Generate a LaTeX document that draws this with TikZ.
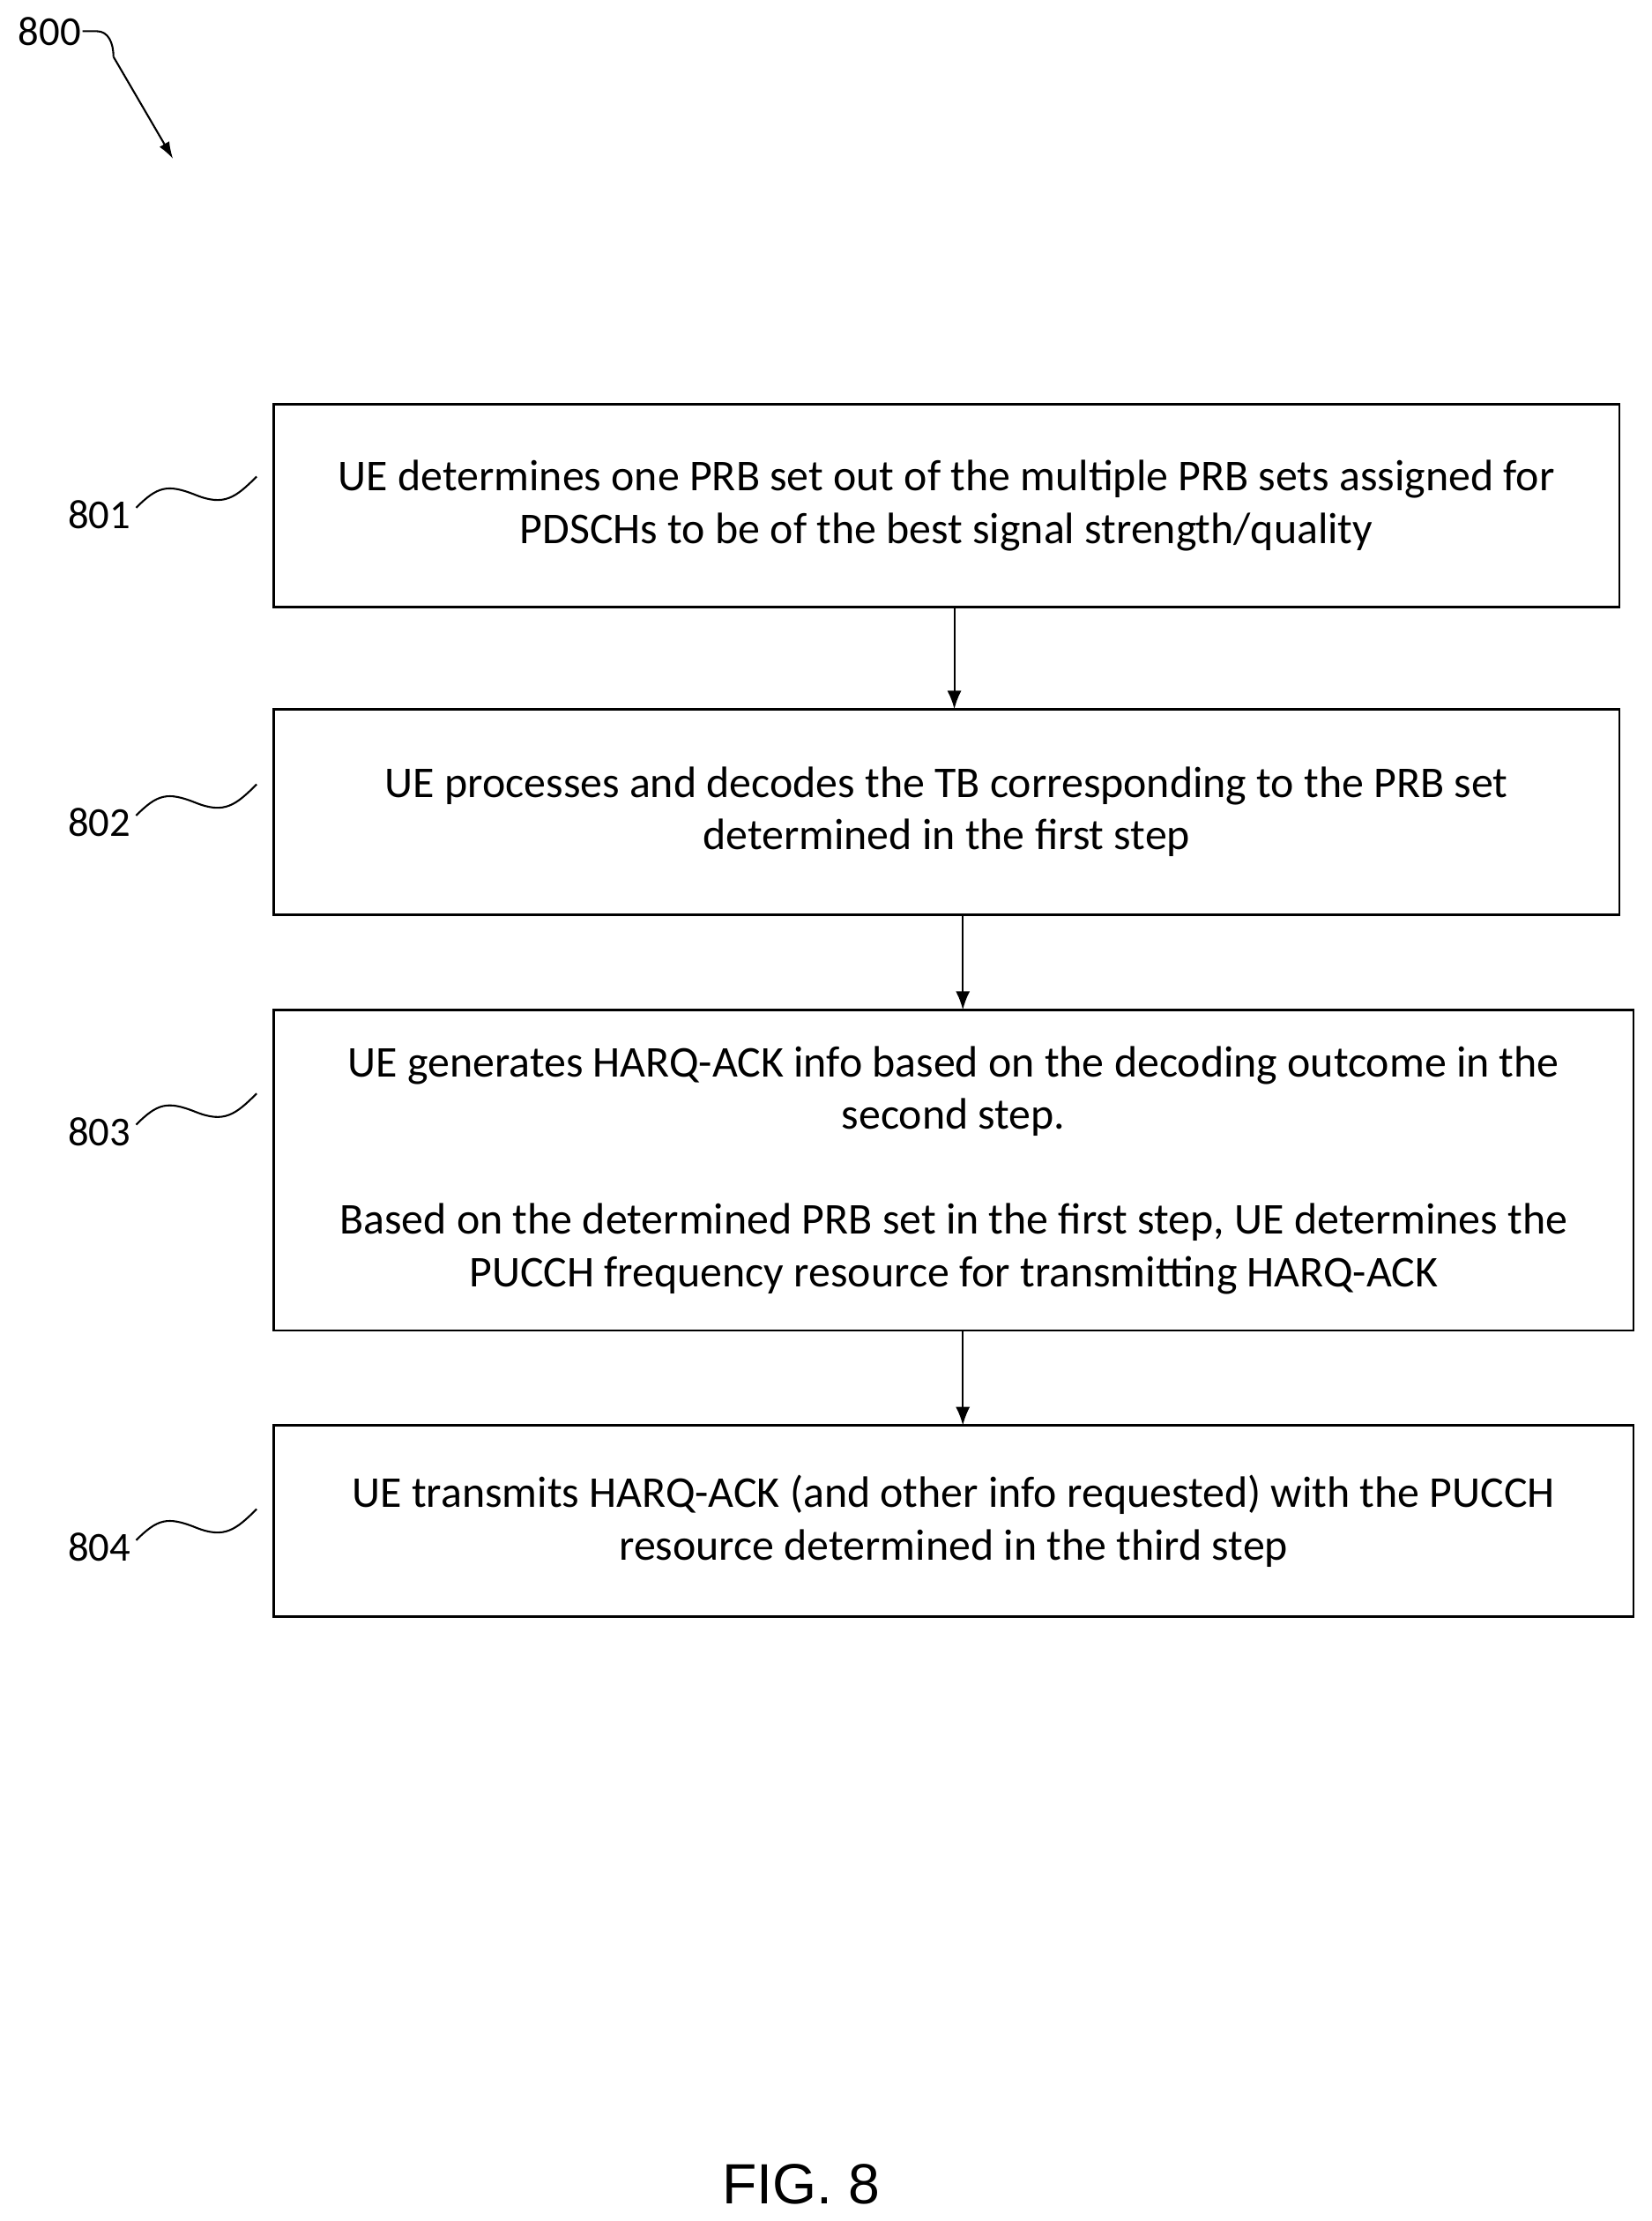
\documentclass[tikz,border=0pt]{standalone}
\usepackage{fontspec}
\setmainfont{Carlito}
\newfontfamily\figfont{Liberation Sans}
\usetikzlibrary{positioning,arrows.meta}
\tikzstyle{stepbox}=[draw, line width=1.6pt, inner sep=0pt, align=center, font=\fontsize{31}{37}\selectfont]
\tikzstyle{reflabel}=[font=\fontsize{29}{30}\selectfont, inner sep=1pt]
\tikzstyle{squig}=[line width=1.3pt]
\tikzstyle{flow}=[line width=1.3pt, -{Latex[length=13pt,width=10pt]}]
\begin{document}
\begin{tikzpicture}[x=1pt, y=-1pt]
  \useasboundingbox (0,0) rectangle (1165,1566);
  % steps
  \node[stepbox, minimum width=949pt, minimum height=143pt] (S1) at (667.5,356.5) {UE determines one PRB set out of the multiple PRB sets assigned for\\PDSCHs to be of the best signal strength/quality};
  \node[stepbox, minimum width=949pt, minimum height=145pt] (S2) at (667.5,572.5) {UE processes and decodes the TB corresponding to the PRB set\\determined in the first step};
  \node[stepbox, minimum width=959pt, minimum height=226pt] (S3) at (672.5,825) {UE generates HARQ-ACK info based on the decoding outcome in the\\second step.\\[37pt]Based on the determined PRB set in the first step, UE determines the\\PUCCH frequency resource for transmitting HARQ-ACK};
  \node[stepbox, minimum width=959pt, minimum height=135pt] (S4) at (672.5,1072.5) {UE transmits HARQ-ACK (and other info requested) with the PUCCH\\resource determined in the third step};
  \draw[flow] (673,428) -- (673,500);
  \draw[flow] (679,645) -- (679,712);
  \draw[flow] (679,938) -- (679,1005);
  % labels
  \foreach \n/\y in {801/363, 802/580, 803/798, 804/1091} {
    \node[reflabel] (L\n) at (70,\y) {\n};
    \draw[squig] (96,\y-5) .. controls +(15,-15) and +(-20,-8) .. (138,\y-14)
      .. controls +(20,8) and +(-15,15) .. (181,\y-27);
  }
  \node[reflabel] (L800) at (35,22) {800};
  \draw[squig] (L800.east) -- +(10,0) .. controls +(8,0) and +(0,-10) .. (80,40);
  \coordinate (A800) at (122,112);
  \draw[squig, -{Latex[length=12pt,width=8pt]}] (80,40) -- (A800);
  \node[font=\figfont\fontsize{40}{44}\selectfont] (fig) at (565,1540) {FIG. 8};
\end{tikzpicture}
\end{document}
